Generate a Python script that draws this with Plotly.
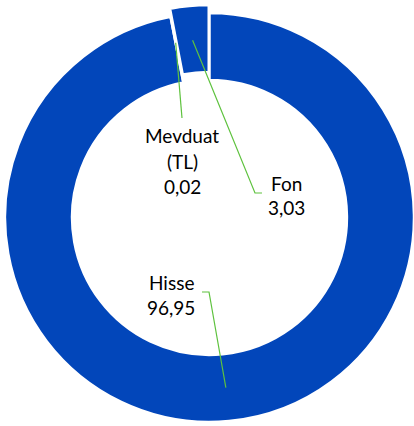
import math
import plotly.graph_objects as go

# ---- data ----
labels = ["Hisse", "Mevduat (TL)", "Fon"]
values = [96.95, 0.02, 3.03]
label_lines = [["Hisse"], ["Mevduat", "(TL)"], ["Fon"]]

# ---- layout constants (pixels) ----
W, H = 414, 426
CX, CY = 209.5, 217.5
R = 204.5
HOLE = 0.672
PULL_PX = [0, 0, 8]
BLUE = "rgb(2,70,186)"
GREEN = "#5ec23e"
NONE = "rgba(0,0,0,0)"
FONT = "Lato"
FSIZE = 19
LINE_GAP = 25

# label text block (centre of first line) and connector points
label_pos = [(171, 282), (182, 136), (286, 183)]
connector = [[(209, 292), (202, 292)], [(182, 118)], [(255, 193), (262, 193)]]
anchor_r = [171, 178, 170]


def to_paper(x, y):
    return x / W, 1 - y / H


total = sum(values)
mid_angles = []
cum = 0
for v in values:
    mid_angles.append(2 * math.pi * (cum + v / 2) / total)
    cum += v


def centre_for(i):
    p = PULL_PX[i]
    a = mid_angles[i]
    return CX + p * math.sin(a), CY - p * math.cos(a)


def domain_for(cx, cy):
    return dict(x=[(cx - R) / W, (cx + R) / W],
                y=[1 - (cy + R) / H, 1 - (cy - R) / H])


fig = go.Figure()

groups = {}
for i, p in enumerate(PULL_PX):
    groups.setdefault(p, []).append(i)

for p, idxs in groups.items():
    cx, cy = centre_for(idxs[0])
    fig.add_trace(go.Pie(
        labels=labels, values=values, sort=False, direction="clockwise",
        rotation=0, hole=HOLE, textinfo="none", hoverinfo="skip",
        showlegend=False, domain=domain_for(cx, cy),
        marker=dict(colors=[BLUE if i in idxs else NONE for i in range(len(values))],
                    line=dict(color=["white" if i in idxs else NONE for i in range(len(values))],
                              width=2.5)),
    ))

shapes = []
annotations = []
for i, v in enumerate(values):
    cx, cy = centre_for(i)
    a = mid_angles[i]
    ax = cx + anchor_r[i] * math.sin(a)
    ay = cy - anchor_r[i] * math.cos(a)
    pts = [(ax, ay)] + connector[i]
    path = ""
    for k, (x, y) in enumerate(pts):
        px, py = to_paper(x, y)
        path += ("M" if k == 0 else " L") + f"{px:.5f},{py:.5f}"
    shapes.append(dict(type="path", path=path, xref="paper", yref="paper",
                       line=dict(color=GREEN, width=1.2), layer="above"))
    lines = label_lines[i] + [f"{v:.2f}".replace(".", ",")]
    lx, ly = label_pos[i]
    for k, t in enumerate(lines):
        px, py = to_paper(lx, ly + k * LINE_GAP)
        annotations.append(dict(text=t, x=px, y=py, xref="paper", yref="paper",
                                xanchor="center", yanchor="middle", showarrow=False,
                                font=dict(family=FONT, size=FSIZE, color="#000000")))

fig.update_layout(width=W, height=H, margin=dict(l=0, r=0, t=0, b=0),
                  paper_bgcolor="white", plot_bgcolor="white",
                  shapes=shapes, annotations=annotations)

fig.write_html("out.html", config={"displayModeBar": False},
               post_script="document.body.style.margin='0';document.body.style.overflow='hidden';")
